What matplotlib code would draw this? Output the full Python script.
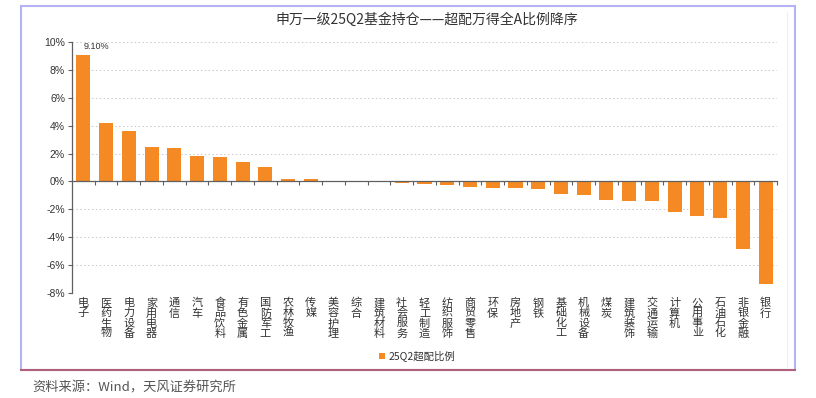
import matplotlib.pyplot as plt
from matplotlib.patches import Rectangle
from matplotlib.lines import Line2D
from matplotlib.transforms import blended_transform_factory

plt.rcParams["font.family"] = ["Noto Sans CJK SC", "DejaVu Sans"]

categories = ["电子", "医药生物", "电力设备", "家用电器", "通信", "汽车", "食品饮料",
              "有色金属", "国防军工", "农林牧渔", "传媒", "美容护理", "综合", "建筑材料",
              "社会服务", "轻工制造", "纺织服饰", "商贸零售", "环保", "房地产", "钢铁",
              "基础化工", "机械设备", "煤炭", "建筑装饰", "交通运输", "计算机", "公用事业",
              "石油石化", "非银金融", "银行"]
values = [9.10, 4.20, 3.65, 2.45, 2.40, 1.85, 1.78, 1.39, 1.05, 0.18, 0.17, 0.05,
          0.0, -0.05, -0.08, -0.21, -0.28, -0.38, -0.47, -0.50, -0.55, -0.90, -1.00,
          -1.31, -1.38, -1.40, -2.17, -2.50, -2.64, -4.88, -7.36]
yticks = [-8, -6, -4, -2, 0, 2, 4, 6, 8, 10]
series_name = "25Q2超配比例"
title = "申万一级25Q2基金持仓——超配万得全A比例降序"
source = "资料来源：Wind，天风证券研究所"

BAR = "#F58A24"
TXT = "#333333"

fig = plt.figure(figsize=(8.16, 3.98), dpi=100)
ax = fig.add_axes([72 / 816, 1 - 293 / 398, 705 / 816, 251 / 398])

x = list(range(len(categories)))
bars = ax.bar(x, values, width=0.62, color=BAR, zorder=3, label=series_name)
ax.set_xlim(-0.5, len(categories) - 0.5)
ax.set_ylim(-8, 10)
ax.set_yticks(yticks)
ax.set_yticklabels([f"{t}%" for t in yticks], fontsize=7.5, color=TXT,
                   family=["Liberation Sans", "DejaVu Sans"])
ax.tick_params(axis="y", length=3, width=0.8, color="#606060", pad=2)
for t in yticks:
    if t != 0:
        ax.axhline(t, color="#c8c8c8", lw=0.7, ls=(0, (1.5, 2.5)), zorder=1)

for s in ["top", "right"]:
    ax.spines[s].set_visible(False)
ax.spines["left"].set_color("#606060")
ax.spines["left"].set_linewidth(0.9)
ax.spines["bottom"].set_position(("data", 0))
ax.spines["bottom"].set_color("#606060")
ax.spines["bottom"].set_linewidth(0.9)
ax.spines["bottom"].set_zorder(4)
ax.set_xticks([i + 0.5 for i in x[:-1]] + [len(categories) - 0.5])
ax.set_xticklabels([])
ax.tick_params(axis="x", direction="out", length=3, width=0.8, color="#606060")

# vertical category labels below the plot
tr = blended_transform_factory(ax.transData, ax.transAxes)
for i, name in zip(x, categories):
    ax.text(i, -0.02, "\n".join(name), transform=tr, ha="center", va="top",
            fontsize=8, color=TXT, linespacing=1.0)

ax.text(0.0, values[0] + 0.25, f"{values[0]:.2f}%", ha="left", va="bottom",
        fontsize=6.5, color=TXT, family=["Liberation Sans", "DejaVu Sans"])

fig.text(427 / 816, 1 - 20 / 398, title, ha="center", va="center",
         fontsize=10, color="#333333")

leg = fig.legend(handles=[bars], labels=[series_name], loc="center",
                 bbox_to_anchor=(417 / 816, 1 - 356 / 398), frameon=False,
                 fontsize=7.5, handlelength=0.6, handleheight=0.6,
                 handletextpad=0.3, borderpad=0)
for t in leg.get_texts():
    t.set_color(TXT)

# outer frame
fig.add_artist(Rectangle((21 / 816, 1 - 370 / 398), 774 / 816, 364 / 398,
                         transform=fig.transFigure, fill=False,
                         edgecolor="#b4b4f4", lw=1.5))
fig.add_artist(Line2D([21 / 816, 795 / 816], [1 - 370 / 398] * 2,
                      transform=fig.transFigure, color="#b0607a", lw=1.5))
fig.add_artist(Line2D([787 / 816] * 2, [1 - 12 / 398, 1 - 368 / 398],
                      transform=fig.transFigure, color="#eeeeee", lw=0.8))

fig.text(32 / 816, 1 - 388 / 398, source, ha="left", va="center",
         fontsize=9.5, color="#555555")

fig.savefig("out.png", dpi=100)
